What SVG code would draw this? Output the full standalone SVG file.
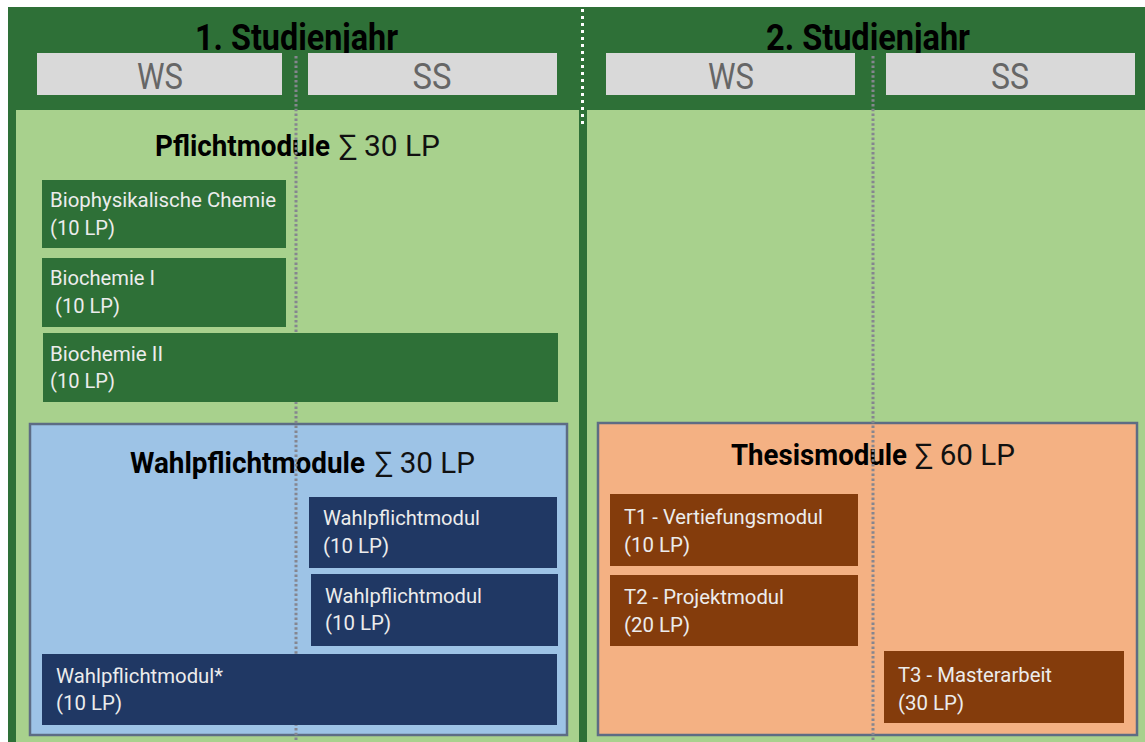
<svg xmlns="http://www.w3.org/2000/svg" width="1145" height="742" viewBox="0 0 1145 742">
<style>
.hdr{fill:#000;font-family:Roboto,"Liberation Sans",sans-serif;font-weight:bold;font-size:36px}
.sem{fill:#666;font-family:Roboto,"Liberation Sans",sans-serif;font-size:36px;text-anchor:middle}
.ttl{fill:#000;font-family:Roboto,"Liberation Sans",sans-serif;font-weight:bold;font-size:30px}
.sum{fill:#111;font-family:Roboto,"DejaVu Sans",sans-serif;font-size:30px}
.mt{fill:#ececec;font-family:Roboto,"Liberation Sans",sans-serif;font-size:20.5px}
.gray{fill:#d9d9d9}
.pgreen{fill:#2e7037}
.navy{fill:#203864}
.brown{fill:#843c0c}
.panel{stroke:#5d6c84;stroke-width:2.5}
</style>
<rect x="0" y="0" width="1145" height="742" fill="#fff"/>
<g id="frame">
<rect x="8" y="7" width="1137" height="735" fill="#2e7037"/>
<rect x="16" y="110" width="563" height="632" fill="#a8d18d"/>
<rect x="587" y="110" width="558" height="632" fill="#a8d18d"/>
</g>
<g id="year1">
<text class="hdr" x="195" y="50" textLength="203" lengthAdjust="spacingAndGlyphs">1. Studienjahr</text>
<g id="y1ws"><rect class="gray" x="37" y="53" width="245" height="42"/><text class="sem" x="160" y="89" textLength="46" lengthAdjust="spacingAndGlyphs">WS</text></g>
<g id="y1ss"><rect class="gray" x="308" y="53" width="249" height="42"/><text class="sem" x="432" y="89" textLength="39" lengthAdjust="spacingAndGlyphs">SS</text></g>
</g>
<g id="year2">
<text class="hdr" x="766" y="50" textLength="204" lengthAdjust="spacingAndGlyphs">2. Studienjahr</text>
<g id="y2ws"><rect class="gray" x="606" y="53" width="249" height="42"/><text class="sem" x="731" y="89" textLength="46" lengthAdjust="spacingAndGlyphs">WS</text></g>
<g id="y2ss"><rect class="gray" x="886" y="53" width="249" height="42"/><text class="sem" x="1010" y="89" textLength="38" lengthAdjust="spacingAndGlyphs">SS</text></g>
</g>
<g id="pflicht">
<text class="ttl" x="155" y="156" textLength="175" lengthAdjust="spacingAndGlyphs">Pflichtmodule</text>
<text class="sum" x="339" y="156" textLength="101" lengthAdjust="spacingAndGlyphs">∑ 30 LP</text>
</g>
<g id="wahlpflicht">
<rect class="panel" x="30" y="424" width="537" height="311" fill="#9dc3e6"/>
<text class="ttl" x="130" y="473" textLength="235" lengthAdjust="spacingAndGlyphs">Wahlpflichtmodule</text>
<text class="sum" x="375" y="473" textLength="100" lengthAdjust="spacingAndGlyphs">∑ 30 LP</text>
</g>
<g id="thesis">
<rect class="panel" x="598" y="423" width="539" height="312" fill="#f4b183"/>
<text class="ttl" x="731" y="465" textLength="176" lengthAdjust="spacingAndGlyphs">Thesismodule</text>
<text class="sum" x="915" y="465" textLength="100" lengthAdjust="spacingAndGlyphs">∑ 60 LP</text>
</g>
<g id="guides" fill="none">
<line x1="582.5" y1="9" x2="582.5" y2="126" stroke="#ffffff" stroke-width="3" stroke-dasharray="3 4"/>
<line x1="296" y1="56" x2="296" y2="742" stroke="#85868f" stroke-width="3" stroke-dasharray="2.5 2.3"/>
<line x1="873" y1="56" x2="873" y2="742" stroke="#85868f" stroke-width="3" stroke-dasharray="2.5 2.3"/>
</g>
<g id="biophys"><rect class="pgreen" x="42" y="180" width="244" height="68"/>
<text class="mt" x="50" y="207" textLength="226" lengthAdjust="spacingAndGlyphs">Biophysikalische  Chemie</text>
<text class="mt" x="50" y="235" textLength="65" lengthAdjust="spacingAndGlyphs">(10 LP)</text></g>
<g id="biochem1"><rect class="pgreen" x="42" y="258" width="244" height="69"/>
<text class="mt" x="50" y="285" textLength="105" lengthAdjust="spacingAndGlyphs">Biochemie I</text>
<text class="mt" x="55" y="313" textLength="65" lengthAdjust="spacingAndGlyphs">(10 LP)</text></g>
<g id="biochem2"><rect class="pgreen" x="43" y="333" width="515" height="69"/>
<text class="mt" x="50" y="361" textLength="113" lengthAdjust="spacingAndGlyphs">Biochemie II</text>
<text class="mt" x="50" y="388" textLength="65" lengthAdjust="spacingAndGlyphs">(10 LP)</text></g>
<g id="wpm1"><rect class="navy" x="309" y="497" width="248" height="71"/>
<text class="mt" x="323" y="525" textLength="157" lengthAdjust="spacingAndGlyphs">Wahlpflichtmodul</text>
<text class="mt" x="323" y="553" textLength="66" lengthAdjust="spacingAndGlyphs">(10 LP)</text></g>
<g id="wpm2"><rect class="navy" x="311" y="574" width="247" height="72"/>
<text class="mt" x="325" y="603" textLength="157" lengthAdjust="spacingAndGlyphs">Wahlpflichtmodul</text>
<text class="mt" x="325" y="630" textLength="66" lengthAdjust="spacingAndGlyphs">(10 LP)</text></g>
<g id="wpm3"><rect class="navy" x="42" y="654" width="515" height="71"/>
<text class="mt" x="56" y="683" textLength="167" lengthAdjust="spacingAndGlyphs">Wahlpflichtmodul*</text>
<text class="mt" x="56" y="710" textLength="66" lengthAdjust="spacingAndGlyphs">(10 LP)</text></g>
<g id="t1"><rect class="brown" x="610" y="494" width="248" height="72"/>
<text class="mt" x="624" y="524" textLength="199" lengthAdjust="spacingAndGlyphs">T1 - Vertiefungsmodul</text>
<text class="mt" x="624" y="552" textLength="66" lengthAdjust="spacingAndGlyphs">(10 LP)</text></g>
<g id="t2"><rect class="brown" x="610" y="575" width="248" height="71"/>
<text class="mt" x="624" y="604" textLength="160" lengthAdjust="spacingAndGlyphs">T2 - Projektmodul</text>
<text class="mt" x="624" y="632" textLength="66" lengthAdjust="spacingAndGlyphs">(20 LP)</text></g>
<g id="t3"><rect class="brown" x="884" y="651" width="240" height="72"/>
<text class="mt" x="898" y="682" textLength="154" lengthAdjust="spacingAndGlyphs">T3 - Masterarbeit</text>
<text class="mt" x="898" y="710" textLength="66" lengthAdjust="spacingAndGlyphs">(30 LP)</text></g>
</svg>
